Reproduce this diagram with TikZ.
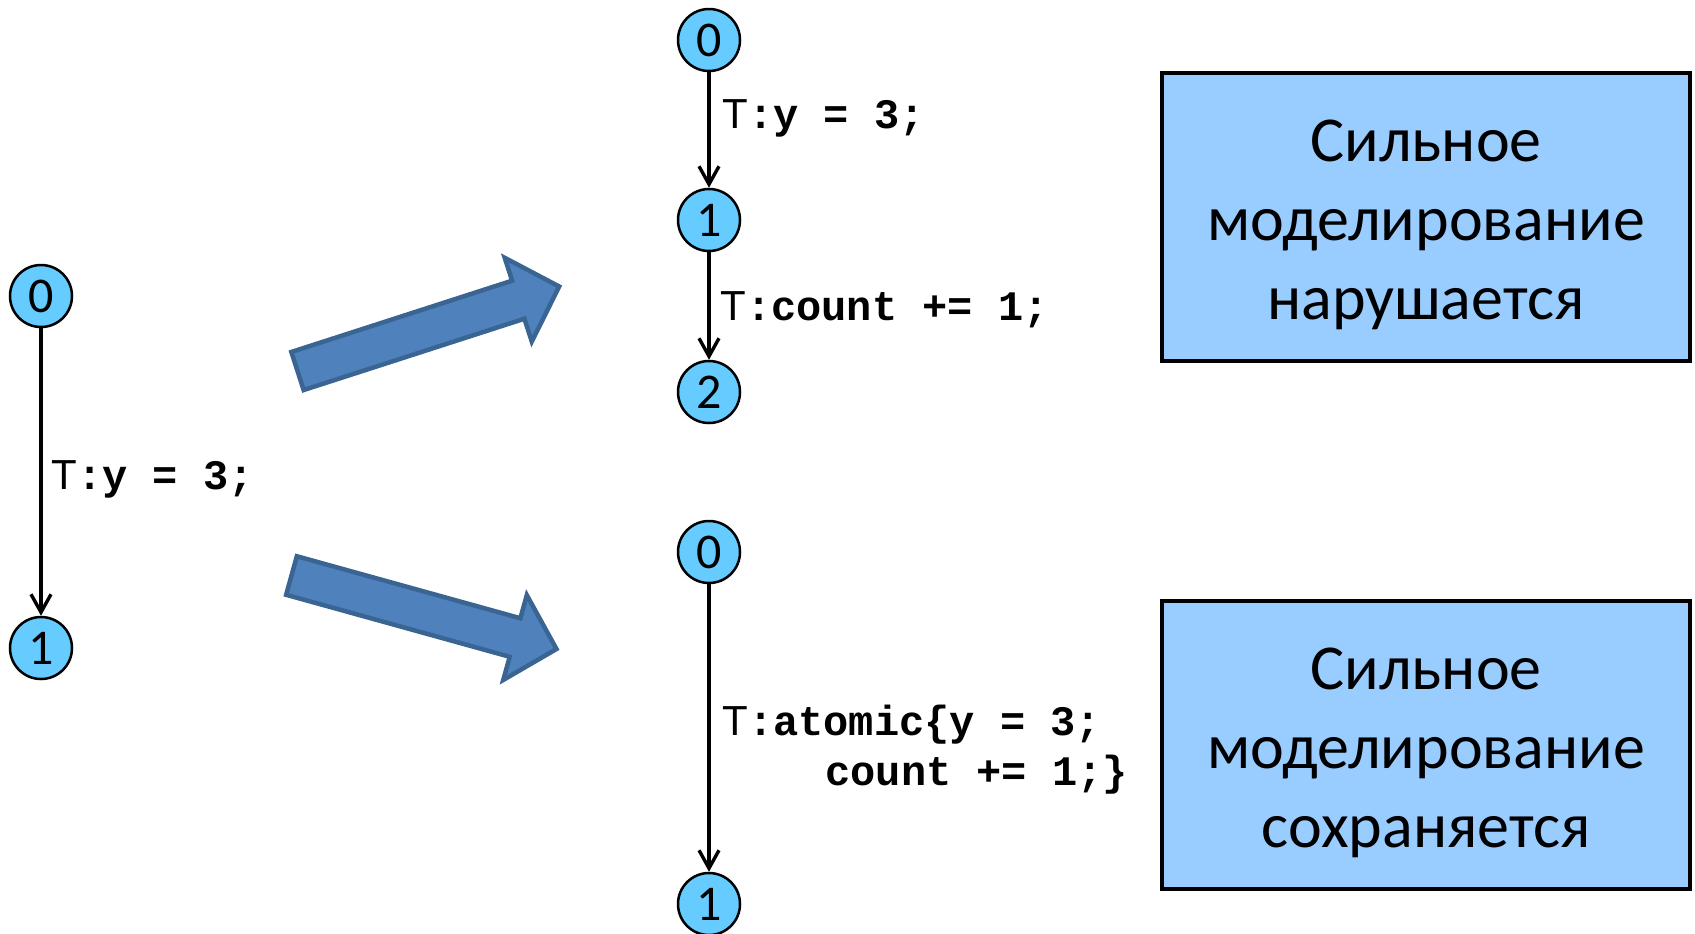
\documentclass[tikz,border=0pt]{standalone}
\usepackage{fontspec}
\setmainfont{Carlito}
\newfontfamily\codefont{Liberation Mono}
\newfontfamily\tackfont{Liberation Sans}
\usetikzlibrary{arrows.meta}

\definecolor{stateblue}{HTML}{66CCFF}
\definecolor{verdictblue}{HTML}{99CCFF}
\definecolor{bigarrowfill}{HTML}{4F81BD}
\definecolor{bigarrowline}{HTML}{3A6592}

% thread mark and bold program text of a transition label
\newcommand\tsym{{\tackfont\fontsize{21}{25}\selectfont T}}
\newcommand\cprog[1]{{\codefont\bfseries\fontsize{21}{25}\selectfont #1}}

\tikzset{
  state/.style={circle, draw=black, line width=1.25pt, fill=stateblue,
    minimum size=31pt, inner sep=0pt, font=\fontsize{25}{30}\selectfont},
  trans/.style={line width=1.7pt,
    -{Straight Barb[length=9pt,width=10pt]}},
  lbl/.style={anchor=base west, inner sep=0pt, align=left,
    font=\fontsize{21}{25}\selectfont},
  verdict/.style={draw=black, line width=2pt, fill=verdictblue,
    minimum width=264pt, minimum height=144pt, inner sep=0pt, align=center,
    text height=102pt, text depth=0pt,
    font=\fontsize{32}{39.5}\selectfont},
  bigarrow/.style={fill=bigarrowfill, draw=bigarrowline, line width=2.25pt,
    line join=miter}
}

\begin{document}
\begin{tikzpicture}[x=0.5pt, y=-0.5pt]
  \useasboundingbox (0,0) rectangle (1695,933);

  % original one-step execution
  \node[state] (a0) at (41,296) {0};
  \node[state] (a1) at (41,648) {1};
  \draw[trans] (a0) -- (a1);
  \node[lbl] (la) at (51,489) {\tsym\cprog{:y = 3;}};

  % block arrows towards the two refinements
  \begin{scope}[shift={(297.5,371)}, rotate=17.9]
    \draw[bigarrow] (0,-20) -- (232,-20) -- (232,-44) -- (275,0)
      -- (232,44) -- (232,20) -- (0,20) -- cycle;
  \end{scope}
  \begin{scope}[shift={(291.5,575.5)}, rotate=-15.5]
    \draw[bigarrow] (0,-20) -- (232,-20) -- (232,-44) -- (275,0)
      -- (232,44) -- (232,20) -- (0,20) -- cycle;
  \end{scope}

  % refinement split into two steps
  \node[state] (b0) at (709,40) {0};
  \node[state] (b1) at (709,220) {1};
  \node[state] (b2) at (709,392) {2};
  \draw[trans] (b0) -- (b1);
  \draw[trans] (b1) -- (b2);
  \node[lbl] (lb1) at (722,128) {\tsym\cprog{:y = 3;}};
  \node[lbl] (lb2) at (720,320) {\tsym\cprog{:count += 1;}};

  % refinement as one atomic step (anchored at its last baseline)
  \node[lbl] (lc) at (722,785)
    {\tsym\cprog{:atomic\{y = 3;}\\\hspace*{51.5pt}\cprog{count += 1;\}}};
  \node[state] (c0) at (709,552) {0};
  \node[state] (c1) at (709,904) {1};
  \draw[trans] (c0) -- (c1);

  % verdicts
  \node[verdict] (v1) at (1426,217)
    {Сильное\\моделирование\\нарушается};
  \node[verdict] (v2) at (1426,745)
    {Сильное\\моделирование\\сохраняется};
\end{tikzpicture}
\end{document}
